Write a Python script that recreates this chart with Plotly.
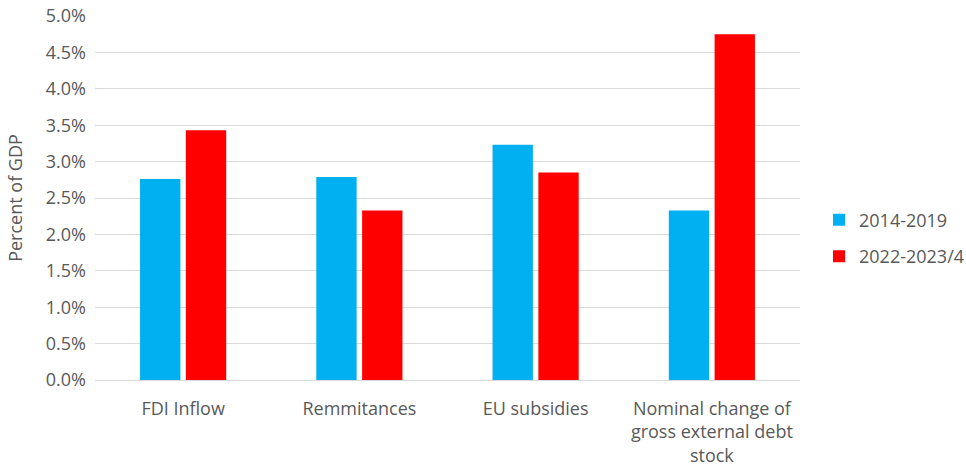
import plotly.graph_objects as go

categories = ["FDI Inflow", "Remmitances", "EU subsidies",
              "Nominal change of<br>gross external debt<br>stock"]
series_names = ["2014-2019", "2022-2023/4"]
values_2014_2019 = [0.0276, 0.0279, 0.0323, 0.0233]
values_2022_2024 = [0.0343, 0.0233, 0.0285, 0.0475]
colors = ["#00B0F0", "#FF0000"]

fig = go.Figure()
for name, vals, col, grp in zip(series_names, [values_2014_2019, values_2022_2024], colors, ["a", "b"]):
    fig.add_trace(go.Bar(x=categories, y=vals, name=name, marker_color=col,
                         marker_line_width=0, legendgroup=grp))

font = dict(family="Open Sans, Liberation Sans, sans-serif", size=18, color="#595959")
fig.update_layout(
    width=966, height=466,
    margin=dict(l=95, r=166, t=16, b=86, autoexpand=False),
    paper_bgcolor="white", plot_bgcolor="white",
    font=font,
    barmode="group", bargap=0.48, bargroupgap=0.12,
    showlegend=True,
    legend=dict(x=1.027, y=0.39, xanchor="left", yanchor="middle",
                font=dict(size=18, color="#595959"), tracegroupgap=10,
                itemwidth=30),
    yaxis=dict(range=[0, 0.05], dtick=0.005, tickformat=".1%",
               showgrid=True, gridcolor="#D9D9D9", gridwidth=1,
               zeroline=True, zerolinecolor="#D9D9D9", zerolinewidth=1,
               ticks="", ticklabelstandoff=8,
               title=dict(text="Percent of GDP", standoff=18, font=dict(size=18))),
    xaxis=dict(showline=False, ticks="", ticklabelstandoff=16),
)
fig.write_html("out.html")
